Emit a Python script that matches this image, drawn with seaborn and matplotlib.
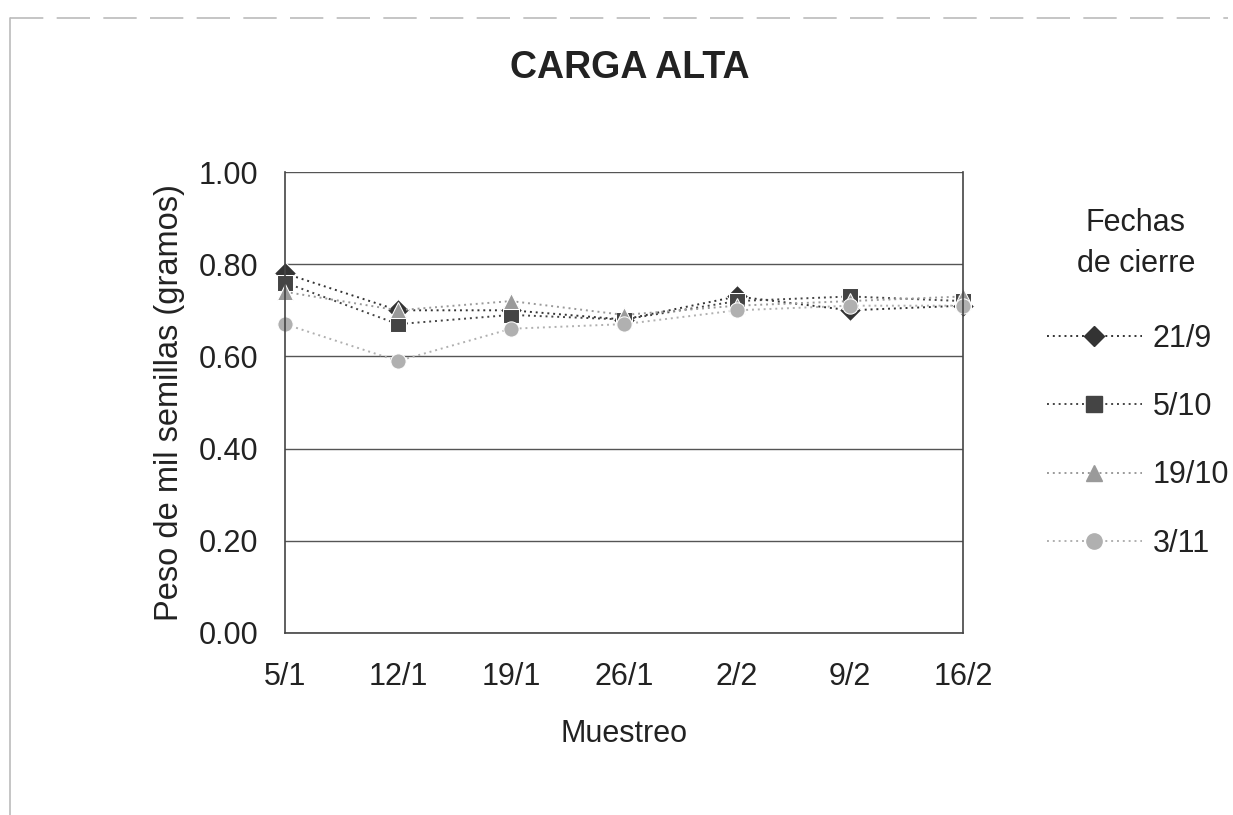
import matplotlib
matplotlib.use("Agg")
import matplotlib.pyplot as plt
import seaborn as sns
import pandas as pd
from matplotlib.lines import Line2D

muestreo = ["5/1", "12/1", "19/1", "26/1", "2/2", "9/2", "16/2"]
s_21_9 = [0.78, 0.70, 0.70, 0.68, 0.73, 0.70, 0.71]
s_5_10 = [0.76, 0.67, 0.69, 0.68, 0.72, 0.73, 0.72]
s_19_10 = [0.74, 0.70, 0.72, 0.69, 0.71, 0.72, 0.73]
s_3_11 = [0.67, 0.59, 0.66, 0.67, 0.70, 0.71, 0.71]
series_names = ["21/9", "5/10", "19/10", "3/11"]

rows = []
for name, vals in zip(series_names, [s_21_9, s_5_10, s_19_10, s_3_11]):
    for i, (m, v) in enumerate(zip(muestreo, vals)):
        rows.append({"idx": i, "Muestreo": m, "valor": v, "serie": name})
df = pd.DataFrame(rows)

sns.set_theme(style="white")
plt.rcParams['font.family'] = ['Liberation Sans', 'DejaVu Sans']

W, H = 1233, 815
fig = plt.figure(figsize=(W / 100, H / 100), dpi=100)
ax = fig.add_axes([285 / W, 1 - 633 / H, (963 - 285) / W, (633 - 172) / H])

palette = {"21/9": "#333333", "5/10": "#444444", "19/10": "#9a9a9a", "3/11": "#b0b0b0"}
markers = {"21/9": "D", "5/10": "s", "19/10": "^", "3/11": "o"}
msize = {"21/9": 10, "5/10": 11.5, "19/10": 11, "3/11": 11}
sns.lineplot(data=df, x="idx", y="valor", hue="serie", style="serie",
             palette=palette, markers=markers, dashes={k: (1, 2) for k in series_names},
             markersize=11, linewidth=1.4, ax=ax, legend=False)
for ln in ax.lines:
    ln.set_clip_on(False)

ax.set_xlim(0, 6)
ax.set_ylim(0, 1.0)
ax.set_yticks([0, 0.2, 0.4, 0.6, 0.8, 1.0])
ax.set_yticklabels(["0.00", "0.20", "0.40", "0.60", "0.80", "1.00"])
ax.set_xticks(range(len(muestreo)))
ax.set_xticklabels(muestreo)
ax.tick_params(axis='both', labelsize=22, colors="#222222", width=1)
ax.tick_params(axis='x', direction='out', length=5, pad=16)
ax.tick_params(axis='y', direction='inout', length=8, pad=15)
ax.yaxis.grid(True, color="#555555", linewidth=1)
ax.set_axisbelow(True)
for side in ["left", "bottom", "right"]:
    ax.spines[side].set_color("#444444")
    ax.spines[side].set_linewidth(1.2)
ax.spines["top"].set_visible(False)
ax.set_xlabel("Muestreo", fontsize=22, color="#222222", labelpad=19)
ax.set_ylabel("Peso de mil semillas (gramos)", fontsize=23.5, color="#222222", labelpad=10)

fig.text(630 / W, 1 - 68 / H, "CARGA ALTA", ha="center", va="center",
         fontsize=27, fontweight="bold", color="#222222")

# Legend title (two centred lines)
fig.text(1136 / W, 1 - 223 / H, "Fechas", ha="center", va="center", fontsize=22, color="#222222")
fig.text(1136 / W, 1 - 264 / H, "de cierre", ha="center", va="center", fontsize=22, color="#222222")

# Legend entries
handles = [Line2D([0], [0], color=palette[n], marker=markers[n], linestyle=(0, (1, 2)),
                  markersize=msize[n], linewidth=1.4) for n in series_names]
leg = fig.legend(handles, series_names, loc="upper left", bbox_to_anchor=(1047 / W, 1 - 324 / H),
                 frameon=False, fontsize=22, labelcolor="#222222",
                 handlelength=3.1, handletextpad=0.35, labelspacing=1.25,
                 borderpad=0, borderaxespad=0)

# outer chart frame (left and top edges visible in the scan)
fig.add_artist(Line2D([10 / W, 10 / W], [0, 1 - 18 / H], transform=fig.transFigure,
                      color="#bbbbbb", linewidth=1.2))
fig.add_artist(Line2D([10 / W, 1228 / W], [1 - 18 / H, 1 - 18 / H], transform=fig.transFigure,
                      color="#bbbbbb", linewidth=1.2, linestyle=(0, (20, 8))))

fig.savefig("out.png", dpi=100)
